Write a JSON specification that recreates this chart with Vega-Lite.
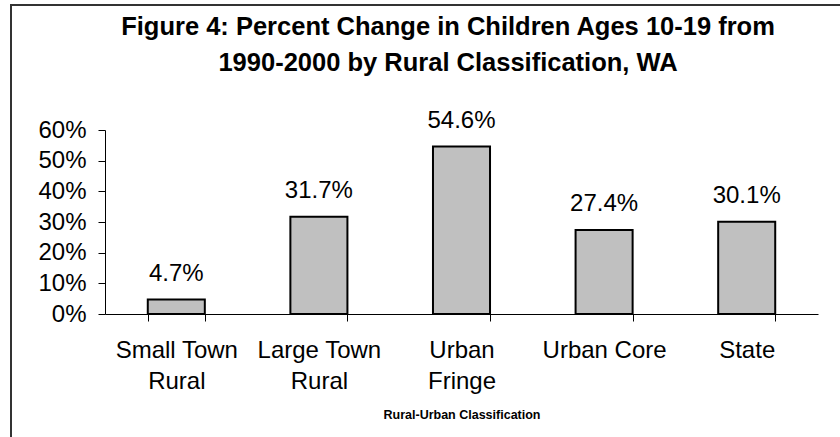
{
  "$schema": "https://vega.github.io/schema/vega-lite/v6.json",
  "autosize": "none",
  "padding": {"left": 11, "top": 5, "right": 0, "bottom": 0},
  "width": 874,
  "height": 440,
  "background": "white",
  "config": {
    "font": "Liberation Sans",
    "view": {"stroke": "#333333", "strokeWidth": 2, "fill": "white"}
  },
  "title": {
    "text": ["Figure 4: Percent Change in Children Ages 10-19 from", "1990-2000 by Rural Classification, WA"],
    "fontSize": 25.5,
    "fontWeight": "bold",
    "color": "#000000",
    "anchor": "middle",
    "frame": "group",
    "lineHeight": 36,
    "offset": -71
  },
  "data": {
    "values": [
      {"classification": "Small Town Rural", "change": 0.047},
      {"classification": "Large Town Rural", "change": 0.317},
      {"classification": "Urban Fringe", "change": 0.546},
      {"classification": "Urban Core", "change": 0.274},
      {"classification": "State", "change": 0.301}
    ]
  },
  "encoding": {
    "x": {
      "field": "classification",
      "type": "nominal",
      "sort": null,
      "scale": {"range": [94, 807], "paddingInner": 0.6, "paddingOuter": 0.3},
      "axis": {
        "title": "Rural-Urban Classification",
        "titleFontSize": 12.5,
        "titleFontWeight": "bold",
        "titleColor": "#000000",
        "titlePadding": 15,
        "offset": -131,
        "labelAngle": 0,
        "labelFontSize": 24,
        "labelColor": "#000000",
        "labelLineHeight": 31,
        "labelPadding": 17,
        "labelExpr": "datum.label == 'Small Town Rural' ? ['Small Town', 'Rural'] : datum.label == 'Large Town Rural' ? ['Large Town', 'Rural'] : datum.label == 'Urban Fringe' ? ['Urban', 'Fringe'] : datum.label",
        "tickBand": "extent",
        "tickSize": 7,
        "tickColor": "#000000",
        "domainColor": "#000000",
        "grid": false
      }
    },
    "y": {
      "field": "change",
      "type": "quantitative",
      "scale": {"domain": [0, 0.6], "range": [309, 125], "nice": false},
      "axis": {
        "title": null,
        "offset": -94,
        "values": [0, 0.1, 0.2, 0.3, 0.4, 0.5, 0.6],
        "format": ".0%",
        "labelFontSize": 24,
        "labelColor": "#000000",
        "labelPadding": 12,
        "tickSize": 7,
        "tickColor": "#000000",
        "domainColor": "#000000",
        "grid": false
      }
    }
  },
  "layer": [
    {
      "mark": {"type": "bar", "fill": "#c0c0c0", "stroke": "#000000", "strokeWidth": 2}
    },
    {
      "mark": {"type": "text", "fontSize": 24, "color": "#000000", "baseline": "alphabetic", "dy": -19},
      "encoding": {"text": {"field": "change", "type": "quantitative", "format": ".1%"}}
    }
  ]
}
